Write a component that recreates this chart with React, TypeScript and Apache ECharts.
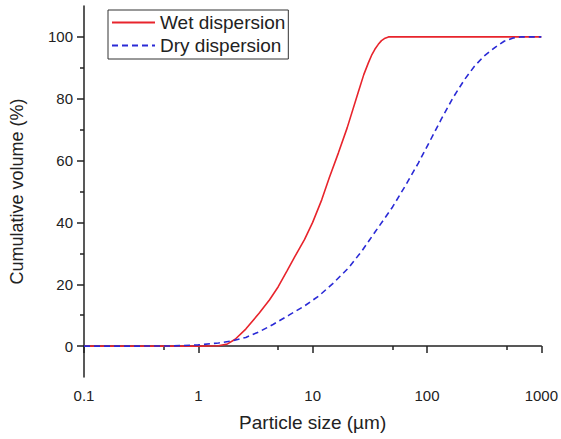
import React, { useEffect, useRef } from "react";
import * as echarts from "echarts";

const wetX = [0.1, 0.5, 1, 1.5, 1.8, 2.1, 2.6, 3.4, 4.2, 5, 6, 7, 8.5, 10, 12, 14, 16.8, 20, 25, 28, 30.7, 33, 35, 37.5, 40, 43, 46, 100, 1000];
const wetY = [0, 0, 0, 0.1, 0.7, 2.2, 5.5, 10.6, 15, 19.2, 24.5, 29, 34.5, 40, 47.3, 54.5, 62.5, 70.5, 82, 87.8, 91.6, 94.3, 96, 97.6, 98.8, 99.6, 100, 100, 100];

const dryX = [0.1, 0.3, 0.6, 1, 1.5, 2, 2.6, 3.4, 4.5, 6.2, 8.5, 11.3, 15, 20.6, 27, 35, 50, 65, 84, 105, 133, 170, 213, 260, 316, 400, 473, 560, 660, 1000];
const dryY = [0, 0, 0.05, 0.4, 1, 1.7, 2.8, 4.6, 7, 10, 13, 16.2, 20.2, 25.3, 30.8, 36.8, 45, 52, 59.2, 66, 73.3, 80.5, 86.2, 90.5, 93.8, 96.8, 98.6, 99.6, 100, 100];

const xMajor = [0.1, 1, 10, 100, 1000];
const xMinor = [0.5, 5, 50, 500];
const yMajor = [0, 20, 40, 60, 80, 100];
const yMinor = [10, 30, 50, 70, 90];

const seriesNames = ["Wet dispersion", "Dry dispersion"];

const FONT = "Arial, 'Liberation Sans', Helvetica, sans-serif";
const TXT = "#222";

export default function App() {
  const ref = useRef<HTMLDivElement>(null);
  useEffect(() => {
    if (!ref.current) return;
    const chart = echarts.init(ref.current, null, { renderer: "svg" });
    const axisLine = { show: true, lineStyle: { color: "#222", width: 1.5 } };
    const grid = { left: 84, right: 18, top: 6, bottom: 62, containLabel: false };
    chart.setOption({
      animation: false,
      backgroundColor: "#fff",
      grid,
      legend: {
        left: 108,
        top: 10,
        orient: "vertical",
        itemWidth: 43,
        itemHeight: 14,
        itemGap: 4,
        padding: [3, 3, 4, 3],
        borderColor: "#333",
        borderWidth: 1,
        itemStyle: { opacity: 0 },
        textStyle: { fontFamily: FONT, fontSize: 19, color: TXT },
        data: seriesNames,
      },
      xAxis: [
        {
          type: "log",
          logBase: 10,
          min: 0.1,
          max: 1000,
          position: "bottom",
          name: "Particle size (µm)",
          nameLocation: "middle",
          nameGap: 36,
          nameTextStyle: { fontFamily: FONT, fontSize: 19, color: TXT },
          axisLine,
          axisTick: { show: true, inside: false, length: 7, customValues: xMajor, lineStyle: { color: "#222", width: 1.5 } },
          axisLabel: {
            customValues: xMajor,
            margin: 11,
            fontFamily: FONT,
            fontSize: 15,
            color: TXT,
            formatter: (v: number) => String(v >= 1 ? Math.round(v) : v),
          },
          splitLine: { show: false },
        },
        {
          type: "log",
          logBase: 10,
          min: 0.1,
          max: 1000,
          position: "bottom",
          offset: 0,
          axisLine: { show: false },
          axisTick: { show: true, inside: false, length: 4, customValues: xMinor, lineStyle: { color: "#222", width: 1.5 } },
          axisLabel: { show: false },
          splitLine: { show: false },
        },
      ],
      yAxis: [
        {
          type: "value",
          min: -10,
          max: 110,
          position: "left",
          name: "Cumulative volume (%)",
          nameLocation: "middle",
          nameGap: 58,
          nameTextStyle: { fontFamily: FONT, fontSize: 18, color: TXT },
          axisLine,
          axisTick: { show: true, inside: false, length: 7, customValues: yMajor, lineStyle: { color: "#222", width: 1.5 } },
          axisLabel: { customValues: yMajor, margin: 11, fontFamily: FONT, fontSize: 15, color: TXT },
          splitLine: { show: false },
        },
        {
          type: "value",
          min: -10,
          max: 110,
          position: "left",
          offset: 0,
          axisLine: { show: false },
          axisTick: { show: true, inside: false, length: 4, customValues: yMinor, lineStyle: { color: "#222", width: 1.5 } },
          axisLabel: { show: false },
          splitLine: { show: false },
        },
      ],
      series: [
        {
          name: seriesNames[0],
          type: "line",
          data: wetX.map((x, i) => [x, wetY[i]]),
          showSymbol: false,
          symbol: "none",
          smooth: false,
          color: "#e8242c",
          lineStyle: { color: "#e8242c", width: 1.6, type: "solid" },
          z: 3,
        },
        {
          name: seriesNames[1],
          type: "line",
          data: dryX.map((x, i) => [x, dryY[i]]),
          showSymbol: false,
          symbol: "none",
          smooth: false,
          color: "#2a2ad6",
          lineStyle: { color: "#2a2ad6", width: 1.6, type: [6, 4] },
          z: 4,
        },
      ],
    });
    return () => chart.dispose();
  }, []);
  return <div ref={ref} style={{ width: 561, height: 439, position: "absolute", left: 0, top: 0 }} />;
}
